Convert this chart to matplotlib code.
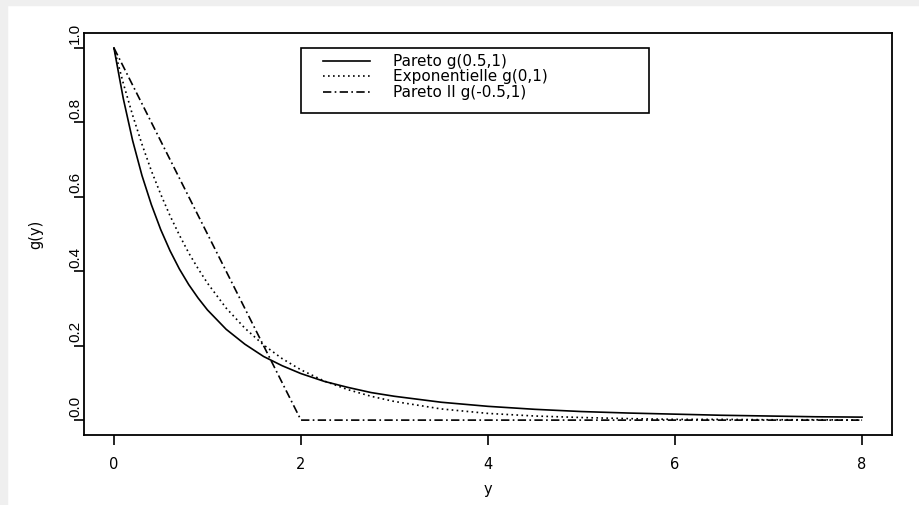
import numpy as np
import matplotlib
matplotlib.use("Agg")
import matplotlib.pyplot as plt
from matplotlib.patches import Rectangle
from matplotlib.transforms import ScaledTranslation

plt.rcParams['font.family'] = ['DejaVu Sans']

#====================
# Values
#====================

y_pts = [0, 0.1, 0.2, 0.3, 0.4, 0.5, 0.6, 0.7, 0.8, 0.9, 1.0, 1.2, 1.4, 1.6, 1.8,
         2.0, 2.25, 2.5, 2.75, 3.0, 3.5, 4.0, 4.5, 5.0, 5.5, 6.0, 6.5, 7.0, 7.5, 8.0]

# Pareto g(0.5,1)
g_pareto = [1.000, 0.864, 0.751, 0.657, 0.579, 0.512, 0.455, 0.406, 0.364, 0.328,
            0.296, 0.244, 0.204, 0.171, 0.146, 0.125, 0.104, 0.088, 0.074, 0.064,
            0.048, 0.037, 0.029, 0.023, 0.019, 0.016, 0.013, 0.011, 0.009, 0.008]

# Exponentielle g(0,1)
g_expo = [1.000, 0.905, 0.819, 0.741, 0.670, 0.607, 0.549, 0.497, 0.449, 0.407,
          0.368, 0.301, 0.247, 0.202, 0.165, 0.135, 0.105, 0.082, 0.064, 0.050,
          0.030, 0.018, 0.011, 0.007, 0.004, 0.002, 0.002, 0.001, 0.001, 0.000]

# Pareto II g(-0.5,1)
y_pareto2 = [0, 2.0, 8.0]
g_pareto2 = [1.0, 0.0, 0.0]

labels = ['Pareto g(0.5,1)', 'Exponentielle g(0,1)', 'Pareto II g(-0.5,1)']
x_ticks = [0, 2, 4, 6, 8]
y_ticks = [0.0, 0.2, 0.4, 0.6, 0.8, 1.0]

#====================
# Figure
#====================

W, H = 919, 505
fig = plt.figure(figsize=(W / 100, H / 100), dpi=100)
fig.patch.set_facecolor('white')

# light grey page border (top and left)
fig.patches.append(Rectangle((0, 1 - 5 / H), 1, 5 / H, transform=fig.transFigure,
                             color='#efefef', zorder=0))
fig.patches.append(Rectangle((0, 0), 7 / W, 1, transform=fig.transFigure,
                             color='#efefef', zorder=0))

left, right, top, bottom = 84, 892, 33, 435
ax = fig.add_axes([left / W, (H - bottom) / H, (right - left) / W, (bottom - top) / H])

ax.plot(y_pts, g_pareto, color='black', lw=1.2, ls='-', label=labels[0])
ax.plot(y_pts, g_expo, color='black', lw=1.2, ls=(0, (1, 2)), label=labels[1])
ax.plot(y_pareto2, g_pareto2, color='black', lw=1.2, ls=(0, (5, 2, 1, 2)), label=labels[2])

ax.set_xlim(-0.32, 8.32)
ax.set_ylim(-0.04, 1.04)
ax.set_xticks(x_ticks)
ax.set_xticklabels([str(t) for t in x_ticks])
ax.set_yticks(y_ticks)
ax.set_yticklabels([f'{t:.1f}' for t in y_ticks], rotation=90, va='bottom',
                   family='Liberation Sans', fontsize=11)

for s in ax.spines.values():
    s.set_linewidth(1.3)
ax.tick_params(direction='out', length=7, width=1.2)
ax.tick_params(axis='x', labelsize=10.5, pad=9)
ax.tick_params(axis='y', pad=-5.5)

# y tick labels sit a little above their ticks in the reference
shift = ScaledTranslation(0, 3.5 / 100, fig.dpi_scale_trans)
for tick in ax.yaxis.get_major_ticks():
    tick.label1.set_transform(tick.label1.get_transform() + shift)

ax.set_xlabel('y', fontsize=10.5, labelpad=7)
ax.set_ylabel('g(y)', fontsize=10.5, labelpad=18)

leg = ax.legend(loc='upper left', bbox_to_anchor=(323 / W, 1 - 54 / H),
                bbox_transform=fig.transFigure, frameon=False, fontsize=11,
                handlelength=3.1, handletextpad=1.5, labelspacing=0.03,
                borderpad=0, borderaxespad=0)

# legend box
fig.patches.append(Rectangle((301 / W, 1 - 113 / H), (649 - 301) / W, (113 - 48) / H,
                             transform=fig.transFigure, fill=False,
                             edgecolor='black', lw=1.2, zorder=5))

fig.savefig('out.png', dpi=100)
